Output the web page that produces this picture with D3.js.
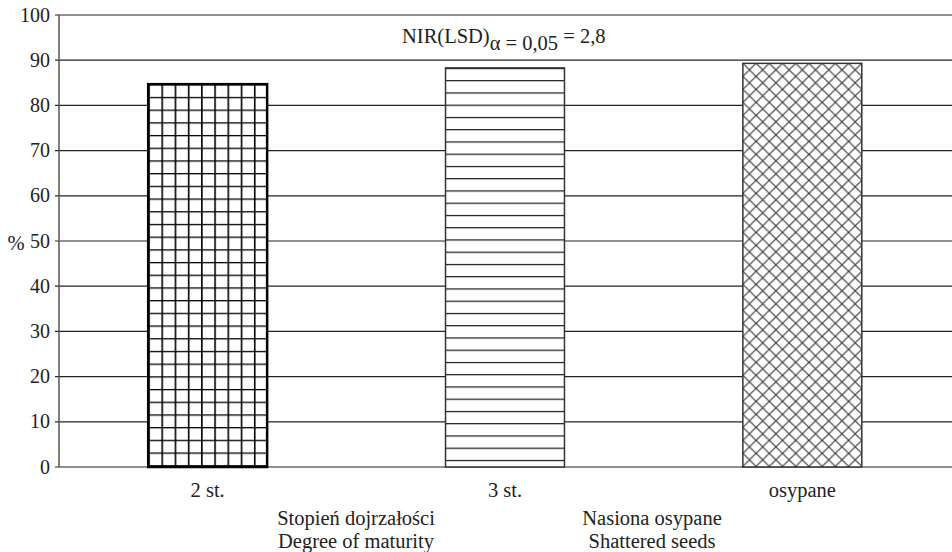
<!DOCTYPE html>
<html><head><meta charset="utf-8">
<script src="https://cdn.jsdelivr.net/npm/d3@7"></script>
<style>body{margin:0;background:#fff}svg{display:block}</style>
</head><body>
<svg id="c" width="952" height="552"></svg>
<script>
const categories = ["2 st.", "3 st.", "osypane"];
const values = [84.7, 88.3, 89.3];
const patterns = ["grid", "hlines", "cross"];
const yTicks = [0,10,20,30,40,50,60,70,80,90,100];
const groupLabels = [
  {lines:["Stopień dojrzałości","Degree of maturity"], cx:356},
  {lines:["Nasiona osypane","Shattered seeds"], cx:652}
];

const svg = d3.select("#c");
const FF = '"Liberation Serif", "Times New Roman", Tinos';
const fs = 20.5;
const m = {left:59, top:15, right:952, bottom:467};
const y = d3.scaleLinear().domain([0,100]).range([m.bottom, m.top]);
const x = d3.scaleBand().domain(categories).range([m.left, 951]).paddingInner(0.6).paddingOuter(0.3);

const defs = svg.append("defs");
categories.forEach((c,i)=>{
  const bx = x(c), bw = x.bandwidth(), top = y(values[i]);
  const id = "p"+i;
  if (patterns[i]==="grid") {
    const pw = bw/9, ph = 12.7;
    const p = defs.append("pattern").attr("id",id).attr("patternUnits","userSpaceOnUse")
      .attr("x",bx).attr("y",top).attr("width",pw).attr("height",ph);
    p.append("rect").attr("width",pw).attr("height",ph).attr("fill","#fff");
    p.append("line").attr("x1",0).attr("x2",0).attr("y1",0).attr("y2",ph).attr("stroke","#000").attr("stroke-width",3.2);
    p.append("line").attr("x1",0).attr("x2",pw).attr("y1",0).attr("y2",0).attr("stroke","#000").attr("stroke-width",2.6);
  } else if (patterns[i]==="hlines") {
    const ph = 12.25;
    const p = defs.append("pattern").attr("id",id).attr("patternUnits","userSpaceOnUse")
      .attr("x",bx).attr("y",top).attr("width",bw).attr("height",ph);
    p.append("rect").attr("width",bw).attr("height",ph).attr("fill","#fff");
    p.append("line").attr("x1",0).attr("x2",bw).attr("y1",0).attr("y2",0).attr("stroke","#111").attr("stroke-width",2.4);
  } else {
    const pw = bw/9, ph = 13;
    const p = defs.append("pattern").attr("id",id).attr("patternUnits","userSpaceOnUse")
      .attr("x",bx).attr("y",top).attr("width",pw).attr("height",ph);
    p.append("rect").attr("width",pw).attr("height",ph).attr("fill","#fff");
    p.append("path").attr("d",`M0,0L${pw},${ph}M${pw},0L0,${ph}`).attr("stroke","#333").attr("stroke-width",1.1).attr("fill","none");
  }
});

// gridlines
svg.append("g").selectAll("line").data(yTicks).join("line")
  .attr("x1",m.left-4).attr("x2",952).attr("y1",d=>y(d)).attr("y2",d=>y(d))
  .attr("stroke","#222").attr("stroke-width",1.2);

// y axis line
svg.append("line").attr("x1",m.left).attr("x2",m.left).attr("y1",m.top).attr("y2",m.bottom)
  .attr("stroke","#555").attr("stroke-width",1.5);

// tick labels
svg.append("g").selectAll("text").data(yTicks).join("text")
  .attr("x",50).attr("y",d=>y(d)+6.5).attr("text-anchor","end")
  .style("font-family",FF).attr("font-size",20).attr("fill","#222").text(d=>d);

svg.append("text").attr("x",16).attr("y",250).attr("text-anchor","middle")
  .style("font-family",FF).attr("font-size",fs).attr("fill","#222").text("%");

// bars
svg.append("g").selectAll("rect").data(categories).join("rect")
  .attr("x",d=>x(d)).attr("width",x.bandwidth())
  .attr("y",(d,i)=>y(values[i])).attr("height",(d,i)=>y(0)-y(values[i]))
  .attr("fill",(d,i)=>`url(#p${i})`).attr("stroke",(d,i)=>i===0?"#000":"#333")
  .attr("stroke-width",(d,i)=>i===0?2.5:1.5);

// category labels
svg.append("g").selectAll("text").data(categories).join("text")
  .attr("x",d=>x(d)+x.bandwidth()/2).attr("y",497).attr("text-anchor","middle")
  .style("font-family",FF).attr("font-size",fs).attr("fill","#222").text(d=>d);

groupLabels.forEach(g=>{
  g.lines.forEach((t,j)=>{
    svg.append("text").attr("x",g.cx).attr("y",525+j*23).attr("text-anchor","middle")
      .style("font-family",FF).attr("font-size",fs).attr("fill","#222").text(t);
  });
});

// NIR annotation
const nir = svg.append("text").attr("x",402).attr("y",43)
  .style("font-family",FF).attr("font-size",fs).attr("fill","#222");
nir.append("tspan").text("NIR(LSD)");
nir.append("tspan").attr("dy",6.5).text("α = 0,05");
nir.append("tspan").attr("dy",-6.5).text(" = 2,8");
</script>
</body></html>
